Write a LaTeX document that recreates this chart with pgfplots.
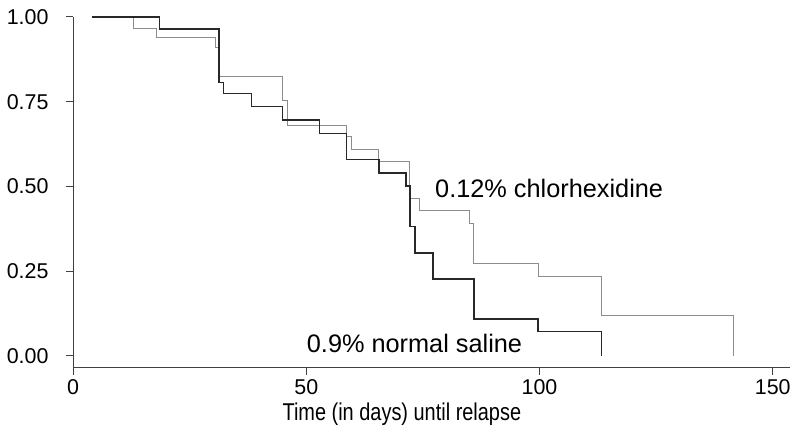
\documentclass[border=0pt]{standalone}
\usepackage{pgfplots}
\pgfplotsset{compat=1.18}
\usepackage{fontspec}
\setmainfont{Liberation Sans}
\newfontfamily\condfont{Liberation Sans}[FakeStretch=0.82]
\definecolor{blk}{HTML}{282828}
\definecolor{gry}{HTML}{8C8C8C}
\definecolor{axc}{HTML}{404040}
\begin{document}
\begin{tikzpicture}[x=1bp,y=1bp]
\useasboundingbox (0,0) rectangle (800,444);
\begin{axis}[
  at={(73bp,76bp)}, anchor=south west,
  scale only axis, width=717bp, height=351bp,
  xmin=0, xmax=153.7, ymin=-0.0354, ymax=1.0,
  clip=false,
  axis x line=bottom, axis y line=left,
  axis line style={-, color=axc, line width=1bp},
  xtick={0,50,100,150}, xticklabels={0,50,100,150},
  ytick={0,0.25,0.5,0.75,1}, yticklabels={0.00,0.25,0.50,0.75,1.00},
  tick align=outside, major tick length=7bp,
  tick style={color=axc, line width=1bp},
  tick label style={font=\fontsize{21.5}{25}\selectfont, text=black},
  yticklabel style={anchor=east, xshift=-14bp},
  xticklabel style={anchor=north, yshift=-1bp},
]
\addplot[const plot, color=gry, line width=1bp] coordinates {
(4.1,1.0) (12.9,0.967) (17.8,0.939) (30.6,0.91) (31.4,0.823) (44.9,0.753)
(46.0,0.681) (58.6,0.646) (59.7,0.609) (65.4,0.573) (72.2,0.466) (74.2,0.429)
(84.9,0.390) (85.8,0.274) (99.7,0.235) (113.3,0.118) (141.5,0.0)
};
\addplot[const plot, color=blk, line width=1.4bp] coordinates {
(4.1,1.0) (18.6,0.964) (31.3,0.807) (32.2,0.774) (38.3,0.736) (44.9,0.696)
(52.8,0.657) (58.6,0.580) (65.6,0.540) (71.4,0.501) (72.2,0.382) (73.3,0.304)
(77.2,0.227) (86.0,0.109) (99.7,0.072) (113.3,0.0)
};
\node[anchor=base west, inner sep=0pt, font=\fontsize{25.4}{30}\selectfont] at (axis cs:77.6,0.468) {0.12\% chlorhexidine};
\node[anchor=base west, inner sep=0pt, font=\fontsize{25.4}{30}\selectfont] at (axis cs:50.1,0.011) {0.9\% normal saline};
\node[anchor=base, inner sep=0pt, font=\condfont\fontsize{24.4}{30}\selectfont] at (axis cs:70.5,-0.189) {Time (in days) until relapse};
\end{axis}
\end{tikzpicture}
\end{document}
